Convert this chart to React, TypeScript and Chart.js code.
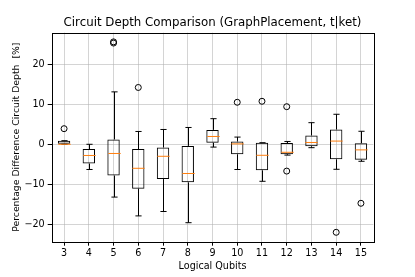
import React, { useEffect, useRef } from 'react';
import { Chart, registerables } from 'chart.js';

Chart.register(...registerables);

const qubits = ['3', '4', '5', '6', '7', '8', '9', '10', '11', '12', '13', '14', '15'];
const whiskerLow = [0, -6.3, -13.2, -17.9, -16.8, -19.6, -0.7, -6.3, -9.25, -2.7, -0.85, -6.25, -4.25];
const q1 = [0, -4.8, -7.8, -11.1, -8.7, -9.5, 0.4, -2.5, -6.5, -2.5, -0.5, -3.75, -3.85];
const median = [0, -2.8, -2.3, -6.0, -3.0, -7.3, 1.95, 0.1, -2.75, -2.0, 0.45, 0.8, -1.4];
const q3 = [0.9, -1.2, 1.2, -1.2, -0.8, -0.4, 3.6, 0.7, 0.4, 0.3, 2.2, 3.7, 0.25];
const whiskerHigh = [0.9, 0, 13.1, 3.2, 3.7, 4.2, 6.4, 1.8, 0.4, 0.7, 5.4, 7.5, 3.25];
const outlierQubits = ['3', '5', '5', '6', '10', '11', '12', '12', '14', '15'];
const outlierValues = [3.9, 25.3, 25.6, 14.2, 10.5, 10.75, 9.4, -6.7, -22, -14.75];
const yTicks = [-20, -10, 0, 10, 20];

const FONT = 'DejaVu Sans';

const boxPartsPlugin = {
  id: 'boxParts',
  afterDatasetsDraw(chart: any) {
    const { ctx, scales } = chart;
    const x = scales.x;
    const y = scales.y;
    const step = x.getPixelForValue(1) - x.getPixelForValue(0);
    const half = step * 0.25;
    const capHalf = half * 0.5;
    ctx.save();
    ctx.lineWidth = 1;
    qubits.forEach((_, i) => {
      const cx = Math.round(x.getPixelForValue(i)) + 0.5;
      const yHi = y.getPixelForValue(whiskerHigh[i]);
      const yQ3 = y.getPixelForValue(q3[i]);
      const yQ1 = y.getPixelForValue(q1[i]);
      const yLo = y.getPixelForValue(whiskerLow[i]);
      const yMed = y.getPixelForValue(median[i]);
      ctx.strokeStyle = '#000';
      ctx.beginPath();
      ctx.moveTo(cx, yQ3);
      ctx.lineTo(cx, yHi);
      ctx.moveTo(cx - capHalf, yHi);
      ctx.lineTo(cx + capHalf, yHi);
      ctx.moveTo(cx, yQ1);
      ctx.lineTo(cx, yLo);
      ctx.moveTo(cx - capHalf, yLo);
      ctx.lineTo(cx + capHalf, yLo);
      ctx.stroke();
      ctx.strokeStyle = '#ff7f0e';
      ctx.beginPath();
      ctx.moveTo(cx - half, yMed);
      ctx.lineTo(cx + half, yMed);
      ctx.stroke();
    });
    ctx.restore();
  },
  afterDraw(chart: any) {
    const { ctx, chartArea } = chart;
    ctx.save();
    ctx.strokeStyle = '#000';
    ctx.lineWidth = 1;
    ctx.strokeRect(
      Math.round(chartArea.left) + 0.5,
      Math.round(chartArea.top) + 0.5,
      Math.round(chartArea.right - chartArea.left),
      Math.round(chartArea.bottom - chartArea.top)
    );
    ctx.restore();
  },
};

export default function App() {
  const canvasRef = useRef<HTMLCanvasElement | null>(null);

  useEffect(() => {
    const canvas = canvasRef.current;
    if (!canvas) return;
    Chart.defaults.font.family = FONT;
    Chart.defaults.color = '#000';
    const chart = new Chart(canvas, {
      type: 'bar',
      data: {
        labels: qubits,
        datasets: [
          {
            type: 'bar',
            data: qubits.map((_, i) => [q1[i], q3[i]]) as any,
            backgroundColor: 'rgba(0,0,0,0)',
            borderColor: '#000',
            borderWidth: 1,
            borderSkipped: false,
            barPercentage: 0.5,
            categoryPercentage: 1,
          } as any,
          {
            type: 'scatter',
            data: outlierQubits.map((q, i) => ({ x: q, y: outlierValues[i] })) as any,
            pointStyle: 'circle',
            pointRadius: 3,
            pointBackgroundColor: 'rgba(0,0,0,0)',
            pointBorderColor: '#000',
            pointBorderWidth: 1,
            showLine: false,
          } as any,
        ],
      },
      options: {
        responsive: false,
        animation: false,
        devicePixelRatio: 1,
        layout: { padding: { left: 0, right: 41.7, top: 0, bottom: 0 } },
        plugins: {
          legend: { display: false },
          tooltip: { enabled: false },
          title: {
            display: true,
            fullSize: false,
            text: 'Circuit Depth Comparison (GraphPlacement, t|ket)',
            color: '#000',
            font: { family: FONT, size: 11.8, weight: 'normal' },
            padding: { top: 15.9, bottom: 2.6 },
          },
        },
        scales: {
          x: {
            type: 'category',
            offset: true,
            grid: {
              display: true,
              offset: false,
              color: 'rgba(176,176,176,0.55)',
              lineWidth: 1,
              tickColor: '#000',
              tickLength: 4,
            },
            border: { display: false },
            ticks: {
              color: '#000',
              font: { family: FONT, size: 9.6 },
              padding: 2,
              maxRotation: 0,
              autoSkip: false,
            },
            title: {
              display: true,
              text: 'Logical Qubits',
              color: '#000',
              font: { family: FONT, size: 9.6 },
              padding: { top: 0, bottom: 5.2 },
            },
            afterFit(scale: any) {
              scale.height = 35.3;
            },
          },
          y: {
            type: 'linear',
            min: -24.35,
            max: 27.9,
            grid: {
              color: 'rgba(176,176,176,0.55)',
              lineWidth: 1,
              tickColor: '#000',
              tickLength: 4,
            },
            border: { display: false },
            ticks: {
              color: '#000',
              font: { family: FONT, size: 9.6 },
              padding: 3,
              callback: (v: any) => (v < 0 ? '\u2212' + Math.abs(v) : String(v)),
            },
            afterBuildTicks(scale: any) {
              scale.ticks = yTicks.map((v) => ({ value: v }));
            },
            title: {
              display: true,
              text: 'Percentage Difference Circuit Depth  [%]',
              color: '#000',
              font: { family: FONT, size: 9.3 },
              padding: { top: 11, bottom: 0 },
            },
            afterFit(scale: any) {
              scale.width = 51.7;
            },
          },
        },
      },
      plugins: [boxPartsPlugin],
    });
    return () => chart.destroy();
  }, []);

  return (
    <div style={{ position: 'fixed', left: 0, top: 0, width: 415, height: 277, background: '#fff' }}>
      <canvas ref={canvasRef} width={415} height={277} />
    </div>
  );
}
